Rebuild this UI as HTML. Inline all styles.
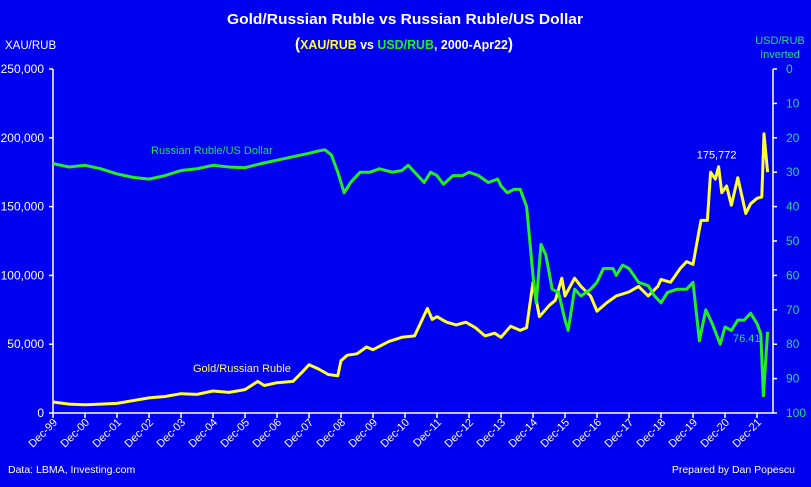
<!DOCTYPE html>
<html><head><meta charset="utf-8">
<style>
html,body{margin:0;padding:0;background:#0000F0;}
svg{display:block;font-family:"Liberation Sans",sans-serif;}
</style></head>
<body>
<svg id="chart" width="811" height="487" viewBox="0 0 811 487" xmlns="http://www.w3.org/2000/svg">
<rect x="0" y="0" width="811" height="487" fill="#0000F0"/>
<text x="405" y="24" text-anchor="middle" fill="#fff" font-weight="bold" font-size="15" textLength="356" lengthAdjust="spacingAndGlyphs">Gold/Russian Ruble vs Russian Ruble/US Dollar</text>
<text x="404" y="49" text-anchor="middle" font-weight="bold" font-size="13" textLength="218" lengthAdjust="spacingAndGlyphs"><tspan fill="#fff" font-size="16">(</tspan><tspan fill="#ffff33">XAU/RUB</tspan><tspan fill="#fff"> vs </tspan><tspan fill="#22ee22">USD/RUB</tspan><tspan fill="#fff">, 2000-Apr22</tspan><tspan fill="#fff" font-size="16">)</tspan></text>
<text x="5" y="49" fill="#fff" font-size="11.5">XAU/RUB</text>
<text x="780" y="44" text-anchor="middle" fill="#22dd88" font-size="11"><tspan x="780">USD/RUB</tspan><tspan x="780" dy="14">Inverted</tspan></text>
<text x="8" y="473" fill="#fff" font-size="10.5">Data: LBMA, Investing.com</text>
<text x="795" y="473" text-anchor="end" fill="#fff" font-size="10.5">Prepared by Dan Popescu</text>
<g id="axes"></g>
<g id="series"></g>
<text x="151" y="154" fill="#22dd66" font-size="11">Russian Ruble/US Dollar</text>
<text x="193" y="372" fill="#ffff66" font-size="11">Gold/Russian Ruble</text>
</svg>
<script>
const xLabels=["Dec99","Dec00","Dec01","Dec02","Dec03","Dec04","Dec05","Dec06","Dec07","Dec08","Dec09","Dec10","Dec11","Dec12","Dec13","Dec14","Dec15","Dec16","Dec17","Dec18","Dec19","Dec20","Dec21"];
const leftTicks=[0,50000,100000,150000,200000,250000];
const rightTicks=[0,10,20,30,40,50,60,70,80,90,100];
// years since Dec-99
const goldT=[0,0.5,1,1.5,2,2.5,3,3.5,4,4.5,5,5.5,6,6.4,6.6,7,7.5,7.8,8.0,8.3,8.6,8.9,9.0,9.2,9.5,9.8,10,10.5,10.9,11.3,11.7,11.85,12.0,12.3,12.6,12.9,13.2,13.5,13.8,14.0,14.3,14.6,14.8,15.0,15.2,15.5,15.7,15.9,16.0,16.3,16.5,16.8,17.0,17.3,17.6,18.0,18.3,18.6,18.9,19.0,19.3,19.6,19.8,20.0,20.25,20.45,20.55,20.7,20.8,20.9,21.05,21.2,21.4,21.65,21.8,22.0,22.15,22.22,22.33];
const goldV=[8000,6500,6000,6500,7000,9000,11000,12000,14000,13500,16000,15000,17000,23000,20000,22000,23000,30000,35000,32000,28000,27000,38000,42000,43000,48000,46000,52000,55000,56000,76000,68000,70000,66000,64000,66000,62000,56000,58000,55000,63000,60000,62000,95000,70000,78000,82000,98000,85000,98000,92000,85000,74000,80000,85000,88000,92000,85000,92000,97000,95000,105000,110000,108000,140000,140000,175000,170000,179000,160000,165000,151000,171000,145000,152000,156000,157000,203000,175000];
const rubT=[0,0.5,1,1.5,2,2.5,3,3.5,4,4.5,5,5.5,6,6.5,7,7.5,8.0,8.3,8.5,8.7,8.9,9.1,9.3,9.6,9.9,10.2,10.6,10.9,11.1,11.4,11.6,11.8,12.0,12.2,12.5,12.8,13.0,13.3,13.6,13.9,14.0,14.2,14.4,14.6,14.8,15.0,15.1,15.25,15.4,15.6,15.8,16.0,16.1,16.3,16.5,16.8,17.0,17.2,17.5,17.6,17.8,18.0,18.3,18.6,18.8,19.0,19.2,19.5,19.8,20.0,20.2,20.4,20.6,20.85,21.0,21.2,21.4,21.6,21.8,22.0,22.12,22.2,22.33];
const rubV=[27.5,28.5,28,29,30.5,31.5,32,31,29.5,29,28,28.5,28.7,27.5,26.5,25.5,24.5,23.8,23.5,25,30,36,33,30,30,29,30,29.5,28,31,33,30,31,33.5,31,31,30,31,33,32,34,36,35,35,40,60,68,51,54,64,65,73,76,64,66,64,62,58,58,60,57,58,62,63,66,68,65,64,64,62,79,70,74,80,75,76,73,73,71,74,77,95,76.41];
const X0=53,X1=757,YT=69,YB=413;
const NS="http://www.w3.org/2000/svg";
const xs=t=>X0+(X1-X0)*t/22;
const yL=v=>YB-(YB-YT)*v/250000;
const yR=v=>YT+(YB-YT)*v/100;
function mk(tag,attrs,parent){const e=document.createElementNS(NS,tag);for(const k in attrs)e.setAttribute(k,attrs[k]);parent.appendChild(e);return e;}
const ax=document.getElementById('axes'),sr=document.getElementById('series');
let e;
e=mk('line',{x1:X0,y1:YT,x2:X0,y2:YB,stroke:'#fff','stroke-width':1.5},ax);


e=mk('line',{x1:773,y1:YT,x2:773,y2:YB,stroke:'#fff','stroke-width':1.5},ax);


e=mk('line',{x1:X0,y1:YB,x2:773,y2:YB,stroke:'#fff','stroke-width':1.5},ax);


leftTicks.forEach(v=>{const y=yL(v);
 mk('line',{x1:X0-4,y1:y,x2:X0,y2:y,stroke:'#fff','stroke-width':1.5},ax);
 e=mk('text',{x:X0-9,y:y+4,'text-anchor':'end',fill:'#fff','font-size':12},ax);
 e.textContent=v.toLocaleString('en-US');
 
 });
rightTicks.forEach(v=>{const y=yR(v);
 mk('line',{x1:773,y1:y,x2:777,y2:y,stroke:'#fff','stroke-width':1.5},ax);
 e=mk('text',{x:786,y:y+4,fill:'#22dd88','font-size':12},ax);
 e.textContent=v;
 
 });
xLabels.forEach((l,i)=>{const x=xs(i);
 mk('line',{x1:x,y1:YB,x2:x,y2:YB+5,stroke:'#fff','stroke-width':1.5},ax);
 e=mk('text',{x:0,y:0,'text-anchor':'end',fill:'#fff','font-size':11,transform:`translate(${x+5},${YB+10}) rotate(-45)`},ax);
 e.textContent=l.slice(0,3)+'-'+l.slice(3);
 
 });
const gp=goldT.map((t,i)=>xs(t).toFixed(1)+','+yL(goldV[i]).toFixed(1)).join(' ');
const rp=rubT.map((t,i)=>xs(t).toFixed(1)+','+yR(rubV[i]).toFixed(1)).join(' ');
e=mk('polyline',{points:gp,fill:'none',stroke:'#ffff33','stroke-width':3,'stroke-linejoin':'round'},sr);


e=mk('polyline',{points:rp,fill:'none',stroke:'#22ee22','stroke-width':3,'stroke-linejoin':'round'},sr);


let gi=goldV.indexOf(Math.max(...goldV.slice(0,70)));
e=mk('text',{x:xs(goldT[gi])-2,y:yL(goldV[gi])-8,'text-anchor':'middle',fill:'#fff','font-size':11},sr);
e.textContent='175,772';


e=mk('text',{x:xs(rubT[rubT.length-1])-7,y:yR(rubV[rubV.length-1])+10,'text-anchor':'end',fill:'#22dd88','font-size':11},sr);
e.textContent=rubV[rubV.length-1].toFixed(2);


</script>
</body></html>
